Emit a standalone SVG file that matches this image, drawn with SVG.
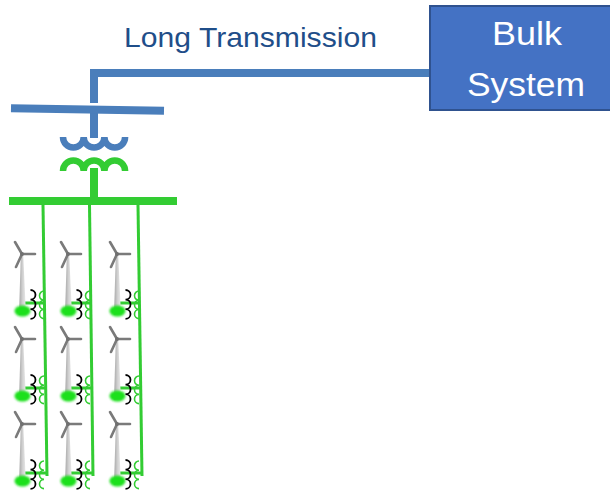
<svg xmlns="http://www.w3.org/2000/svg" xmlns:xlink="http://www.w3.org/1999/xlink" width="610" height="492" viewBox="0 0 610 492">
<style>
.blue{stroke:#4a7ebb;fill:none}
.green{stroke:#33cc33;fill:none}
.lbl{font-family:"Liberation Sans",Arial,sans-serif}
</style>
<defs>
<linearGradient id="towerGrad" x1="0" y1="0" x2="1" y2="0">
<stop offset="0" stop-color="#a6a6a6"/>
<stop offset="0.5" stop-color="#d0d0d0"/>
<stop offset="1" stop-color="#ececec"/>
</linearGradient>
<filter id="blur" x="-50%" y="-50%" width="200%" height="200%"><feGaussianBlur stdDeviation="0.9"/></filter>
<g id="turbine">
<polygon points="-1.2,1 1.2,1 4,61 -3,61" fill="url(#towerGrad)"/>
<path d="M0,0 L-7,-12 M0,0 L13,0 M0,0 L-6,13" stroke="#7a7a7a" stroke-width="2.6" stroke-linecap="round" fill="none"/>
<circle cx="0" cy="0" r="2" fill="#707070"/>
<ellipse cx="0.5" cy="57" rx="8" ry="5.5" fill="#1fe01f" filter="url(#blur)"/>
<path d="M8.5,36 a5,4.8 0 0 1 0,9.6 a5,4.8 0 0 1 0,9.6 a5,4.8 0 0 1 0,9.6" stroke="#000" stroke-width="1.8" fill="none"/>
<path d="M22,37 a4.5,4.6 0 0 0 0,9.2 a4.5,4.6 0 0 0 0,9.2 a4.5,4.6 0 0 0 0,9.2" stroke="#33cc33" stroke-width="1.6" fill="none"/>
</g>
</defs>
<rect width="610" height="492" fill="#fff"/>

<g id="connectors">
<polyline class="blue" points="94,103 94,73 431,73" stroke-width="8"/>
<line class="blue" x1="94" y1="110" x2="94" y2="138" stroke-width="8"/>
<line class="green" x1="94" y1="168" x2="94" y2="199" stroke-width="8"/>
<line class="green" x1="43" y1="205" x2="47" y2="476" stroke-width="3"/>
<line class="green" x1="89.5" y1="205" x2="93" y2="476" stroke-width="3"/>
<line class="green" x1="138" y1="205" x2="142" y2="476" stroke-width="3"/>
<g class="green" stroke-width="3">
<line x1="22" y1="303" x2="44.4" y2="303"/>
<line x1="22" y1="388" x2="45.7" y2="388"/>
<line x1="22" y1="473" x2="47" y2="473"/>
<line x1="68" y1="303" x2="90.8" y2="303"/>
<line x1="68" y1="388" x2="91.9" y2="388"/>
<line x1="68" y1="473" x2="93" y2="473"/>
<line x1="117" y1="303" x2="139.4" y2="303"/>
<line x1="117" y1="388" x2="140.7" y2="388"/>
<line x1="117" y1="473" x2="142" y2="473"/>
</g>
</g>

<g id="label-long-transmission">
<text class="lbl" x="124" y="47" font-size="28" fill="#1f4e89" textLength="253" lengthAdjust="spacingAndGlyphs">Long Transmission</text>
</g>

<g id="bulk-system">
<rect x="430" y="6" width="190" height="104" fill="#4472c4" stroke="#2f528f" stroke-width="2"/>
<text class="lbl" x="527" y="45" font-size="33" fill="#fff" text-anchor="middle" textLength="70" lengthAdjust="spacingAndGlyphs">Bulk</text>
<text class="lbl" x="526" y="96" font-size="33" fill="#fff" text-anchor="middle" textLength="118" lengthAdjust="spacingAndGlyphs">System</text>
</g>

<g id="hv-bus">
<line class="blue" x1="11" y1="108.3" x2="164" y2="110.8" stroke-width="8"/>
</g>

<g id="transformer">
<path class="blue" stroke-width="6.5" d="M63,137 a10.3,10.5 0 0 0 20.7,0 a10.3,10.5 0 0 0 20.7,0 a10.3,10.5 0 0 0 20.7,0"/>
<path class="green" stroke-width="6.5" d="M63,171 a10.3,10.5 0 0 1 20.7,0 a10.3,10.5 0 0 1 20.7,0 a10.3,10.5 0 0 1 20.7,0"/>
</g>

<g id="collector-bus">
<rect x="9" y="197" width="168" height="8" fill="#33cc33"/>
</g>

<g id="turbine-1-1"><use xlink:href="#turbine" href="#turbine" x="22" y="254"/></g>
<g id="turbine-2-1"><use xlink:href="#turbine" href="#turbine" x="22" y="339"/></g>
<g id="turbine-3-1"><use xlink:href="#turbine" href="#turbine" x="22" y="424"/></g>
<g id="turbine-1-2"><use xlink:href="#turbine" href="#turbine" x="68" y="254"/></g>
<g id="turbine-2-2"><use xlink:href="#turbine" href="#turbine" x="68" y="339"/></g>
<g id="turbine-3-2"><use xlink:href="#turbine" href="#turbine" x="68" y="424"/></g>
<g id="turbine-1-3"><use xlink:href="#turbine" href="#turbine" x="117" y="254"/></g>
<g id="turbine-2-3"><use xlink:href="#turbine" href="#turbine" x="117" y="339"/></g>
<g id="turbine-3-3"><use xlink:href="#turbine" href="#turbine" x="117" y="424"/></g>
</svg>
